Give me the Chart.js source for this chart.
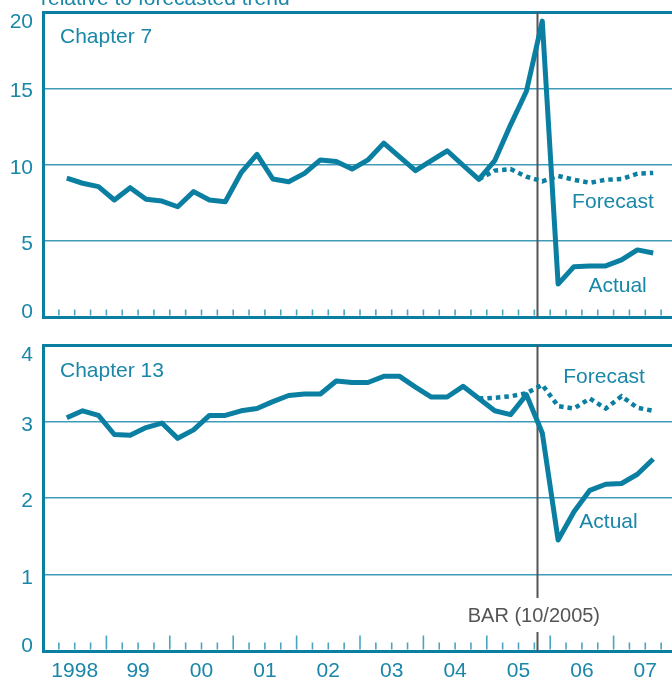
<!DOCTYPE html>
<html>
<head>
<meta charset="utf-8">
<script src="https://cdn.jsdelivr.net/npm/chart.js@4.4.1/dist/chart.umd.min.js"></script>
<style>
  html, body { margin: 0; padding: 0; background: #fff; overflow: hidden; }
  #wrap { position: relative; width: 672px; height: 679px; overflow: hidden; }
  canvas { position: absolute; left: 0; }
  #topChart { top: 0; }
  #bottomChart { top: 330px; }
</style>
</head>
<body>
<div id="wrap">
  <canvas id="topChart" width="677" height="330"></canvas>
  <canvas id="bottomChart" width="677" height="349"></canvas>
</div>
<script>
// x is counted in quarters from 1998Q1 (= 0); series start at 1998Q2
const firstQuarter = 1;
const forecastQuarter = 27; // forecast branches off in 2004Q4
const yearLabels = ["1998", "99", "00", "01", "02", "03", "04", "05", "06", "07"];
const barDate = 2005.79; // BAR effective 10/2005

const ch7Actual = [9.1, 8.77, 8.55, 7.67, 8.48, 7.72, 7.6, 7.23, 8.22, 7.67,
  7.56, 9.46, 10.67, 9.05, 8.87, 9.42, 10.3, 10.2, 9.7, 10.3,
  11.4, 10.5, 9.6, 10.25, 10.9, 9.95, 9.03, 10.25, 12.6, 14.8,
  19.4, 2.16, 3.3, 3.34, 3.35, 3.74, 4.4, 4.2];
const ch7Forecast = [9.03, 9.6, 9.7, 9.2, 8.9, 9.25, 9.0, 8.8, 9.0, 9.05, 9.4, 9.45];

const ch13Actual = [3.05, 3.14, 3.08, 2.83, 2.82, 2.92, 2.98, 2.78, 2.89, 3.08,
  3.08, 3.14, 3.17, 3.26, 3.34, 3.36, 3.36, 3.53, 3.51, 3.51,
  3.59, 3.59, 3.45, 3.32, 3.32, 3.46, 3.30, 3.14, 3.09, 3.35,
  2.85, 1.45, 1.82, 2.10, 2.18, 2.19, 2.31, 2.51];
const ch13Forecast = [3.30, 3.31, 3.33, 3.37, 3.48, 3.20, 3.17, 3.30, 3.17, 3.33, 3.18, 3.14];

const ch7Max = 20, ch7Step = 5;
const ch13Max = 4, ch13Step = 1;

const teal = "#0b7fa2";
const gridTeal = "#3f9bb8";
const tickTeal = "#4aa4c0";
const textTeal = "#1a87a8";
const barGrey = "#555555";
const FONT = "'Liberation Sans', Arial, Helvetica, sans-serif";

Chart.defaults.font.family = FONT;

const toPoints = (vals, start) => vals.map((v, i) => ({ x: start + i + 0.5, y: v }));

// quarter ticks, BAR line and all the text of a panel
const decoPlugin = {
  id: "deco",
  beforeDatasetsDraw(chart, args, o) {
    const { ctx, chartArea: a, scales: { x } } = chart;
    ctx.save();
    ctx.strokeStyle = tickTeal;
    ctx.lineWidth = 1.6;
    for (let q = 1; q < 40; q++) {
      const px = x.getPixelForValue(q);
      const len = o.majorLen && q % 4 === 0 ? o.majorLen : o.minorLen;
      ctx.beginPath();
      ctx.moveTo(px, a.bottom - 1.5);
      ctx.lineTo(px, a.bottom - 1.5 - len);
      ctx.stroke();
    }
    const bx = Math.round(x.getPixelForValue((barDate - 1998) * 4)) + 0.5;
    ctx.strokeStyle = barGrey;
    ctx.lineWidth = 2;
    ctx.beginPath();
    if (o.barLabel) {
      ctx.moveTo(bx, a.top);
      ctx.lineTo(bx, a.bottom - 53);
      ctx.moveTo(bx, a.bottom - 19);
      ctx.lineTo(bx, a.bottom);
    } else {
      ctx.moveTo(bx, a.top);
      ctx.lineTo(bx, a.bottom);
    }
    ctx.stroke();
    ctx.restore();
  },
  afterDraw(chart, args, o) {
    const { ctx, chartArea: a, scales: { x, y } } = chart;
    ctx.save();
    ctx.font = "21px " + FONT;
    ctx.fillStyle = textTeal;
    ctx.textBaseline = "alphabetic";

    // y tick labels
    ctx.textAlign = "right";
    y.ticks.forEach((t) => {
      let base = y.getPixelForValue(t.value) + 9;
      base = Math.max(a.top + 16, Math.min(a.bottom + 1, base));
      ctx.fillText(String(t.value), a.left - 10, base);
    });

    ctx.textAlign = "left";
    if (o.title) ctx.fillText(o.title, a.left - 2, 5);
    ctx.fillText(o.panel, a.left + 17, a.top + o.panelDy);

    ctx.textAlign = "center";
    o.notes.forEach((n) => {
      ctx.fillText(n.text, x.getPixelForValue(n.q), y.getPixelForValue(n.v));
    });

    if (o.barLabel) {
      ctx.fillStyle = barGrey;
      ctx.font = "20px " + FONT;
      const bx = x.getPixelForValue((barDate - 1998) * 4);
      ctx.fillText(o.barLabel, bx - 3, a.bottom - 29);
    }
    ctx.restore();
  },
};

function makePanel(id, actual, forecast, yMax, yStep, showYears, deco, padTop, xHeight) {
  return new Chart(document.getElementById(id), {
    type: "line",
    data: {
      datasets: [
        {
          label: "Forecast",
          data: toPoints(forecast, forecastQuarter),
          borderColor: teal,
          borderWidth: 4.5,
          borderDash: [4.5, 4],
          pointRadius: 0,
          tension: 0,
          fill: false,
        },
        {
          label: "Actual",
          data: toPoints(actual, firstQuarter),
          borderColor: teal,
          borderWidth: 5,
          borderJoinStyle: "round",
          pointRadius: 0,
          tension: 0,
          fill: false,
        },
      ],
    },
    options: {
      responsive: false,
      animation: false,
      events: [],
      layout: { padding: { top: padTop, left: 0, right: 0, bottom: 0 } },
      plugins: {
        legend: { display: false },
        tooltip: { enabled: false },
        deco: deco,
      },
      scales: {
        x: {
          type: "linear",
          min: 0,
          max: 40,
          afterFit: (s) => {
            s.height = xHeight;
            s.paddingLeft = 0;
            s.paddingRight = 0;
          },
          grid: { display: true, drawOnChartArea: false, drawTicks: false },
          border: { display: true, color: teal, width: 3 },
          ticks: {
            display: showYears,
            stepSize: 1,
            autoSkip: false,
            maxRotation: 0,
            padding: 8,
            color: textTeal,
            font: { size: 21 },
            callback: (v) => (v % 4 === 2 ? yearLabels[(v - 2) / 4] : ""),
          },
        },
        y: {
          min: 0,
          max: yMax,
          afterFit: (s) => { s.width = 43; },
          ticks: { display: false, stepSize: yStep },
          grid: {
            drawTicks: false,
            color: (c) => (c.tick && c.tick.value === yMax ? teal : gridTeal),
            lineWidth: (c) => (c.tick && c.tick.value === yMax ? 3 : 1.5),
          },
          border: { display: true, color: teal, width: 3 },
        },
      },
    },
    plugins: [decoPlugin],
  });
}

makePanel("topChart", ch7Actual, ch7Forecast, ch7Max, ch7Step, false, {
  title: "relative to forecasted trend",
  panel: "Chapter 7",
  panelDy: 31,
  minorLen: 6,
  notes: [
    { text: "Forecast", q: 35.96, v: 7.15 },
    { text: "Actual", q: 36.25, v: 1.64 },
  ],
}, 12, 13);

makePanel("bottomChart", ch13Actual, ch13Forecast, ch13Max, ch13Step, true, {
  panel: "Chapter 13",
  panelDy: 32,
  minorLen: 7,
  majorLen: 14,
  barLabel: "BAR (10/2005)",
  notes: [
    { text: "Forecast", q: 35.4, v: 3.5 },
    { text: "Actual", q: 35.68, v: 1.61 },
  ],
}, 15, 28);
</script>
</body>
</html>
